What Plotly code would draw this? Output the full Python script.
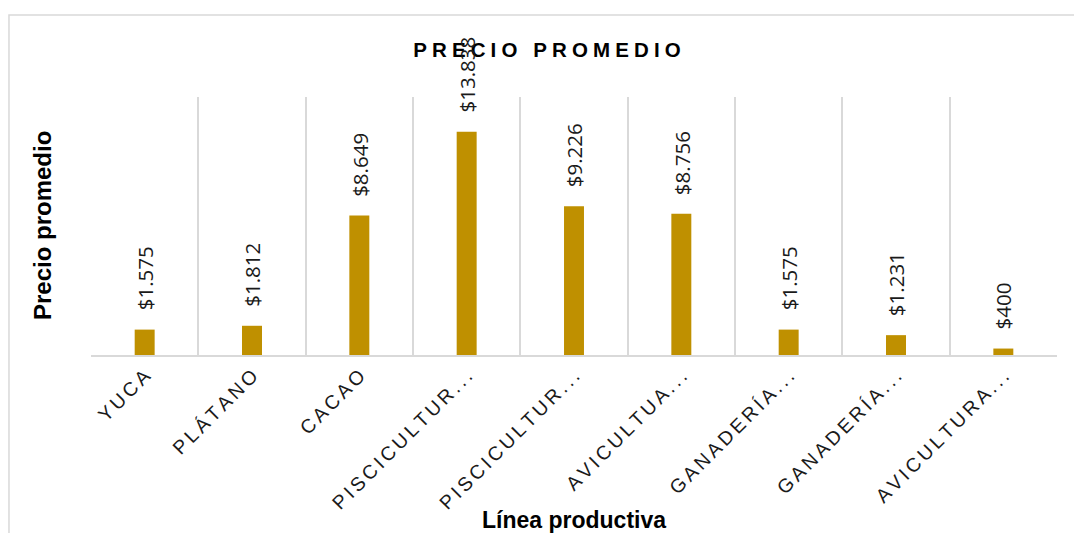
import plotly.graph_objects as go

# Líneas productivas (etiquetas tal como aparecen, recortadas) y precio promedio
categorias = [
    "YUCA",
    "PLÁTANO",
    "CACAO",
    "PISCICULTUR...",
    "PISCICULTUR...",
    "AVICULTUA...",
    "GANADERÍA...",
    "GANADERÍA...",
    "AVICULTURA...",
]
precios = [1575, 1812, 8649, 13838, 9226, 8756, 1575, 1231, 400]

titulo = "PRECIO PROMEDIO"
titulo_y = "Precio promedio"
titulo_x = "Línea productiva"

ORO = "#BF9000"
GRIS = "#D9D9D9"
TEXTO = "#1A1A1A"


def espaciar(texto, sep):
    """Letter-spaced text using narrow space characters."""
    return sep.join(texto)


def moneda(valor):
    return "$" + f"{valor:,}".replace(",", ".")


pos = list(range(len(categorias)))

fig = go.Figure(
    go.Bar(
        x=pos,
        y=precios,
        width=0.186,
        marker=dict(color=ORO, line=dict(width=0)),
        hovertemplate="%{y}<extra></extra>",
    )
)

# Value labels, rotated, above each bar
for x, v in zip(pos, precios):
    fig.add_annotation(
        x=x, y=v, xref="x", yref="y",
        text=moneda(v),
        textangle=-90,
        showarrow=False,
        xanchor="center", yanchor="bottom",
        yshift=17,
        font=dict(family="Open Sans", size=20.5, color=TEXTO),
    )

# Axis titles
fig.add_annotation(
    x=-0.0507, y=0.5, xref="paper", yref="paper",
    text=f"<b>{titulo_y}</b>", textangle=-90, showarrow=False,
    xanchor="center", yanchor="middle",
    font=dict(family="Liberation Sans", size=24, color="#000000"),
)
fig.add_annotation(
    x=0.5, y=(355 - 520) / 258, xref="paper", yref="paper",
    text=f"<b>{titulo_x}</b>", showarrow=False,
    xanchor="center", yanchor="middle",
    font=dict(family="Liberation Sans", size=23, color="#000000"),
)

# Chart frame
fig.add_shape(
    type="rect", xref="paper", yref="paper",
    x0=-0.0849, x1=1.5, y0=-1.5, y1=1.318,
    line=dict(color=GRIS, width=1.5), fillcolor="rgba(0,0,0,0)",
    layer="below",
)

fig.update_layout(
    width=1074,
    height=533,
    margin=dict(l=91, r=17, t=97, b=178),
    paper_bgcolor="white",
    plot_bgcolor="white",
    showlegend=False,
    title=dict(
        text="<b>" + espaciar(titulo, "\u2005") + "</b>",
        x=547 / 1074, xref="container", xanchor="center",
        y=1 - 50 / 533, yref="container", yanchor="middle",
        font=dict(family="Liberation Sans", size=20.5, color="#000000"),
    ),
    xaxis=dict(
        range=[-0.5, len(categorias) - 0.5],
        tickmode="array",
        tickvals=pos,
        ticktext=[espaciar(c, "\u2006") for c in categorias],
        tickangle=-45,
        tickfont=dict(family="Liberation Sans", size=19.5, color=TEXTO),
        ticks="",
        showgrid=False,
        zeroline=False,
        showline=True,
        linecolor=GRIS,
        linewidth=2,
        minor=dict(
            tickmode="array",
            tickvals=[i - 0.5 for i in range(len(categorias) + 1)],
            showgrid=True,
            gridcolor=GRIS,
            gridwidth=1.5,
            ticks="",
        ),
        fixedrange=True,
    ),
    yaxis=dict(
        range=[0, 16000],
        showticklabels=False,
        showgrid=False,
        zeroline=False,
        showline=False,
        ticks="",
        fixedrange=True,
    ),
)

fig.write_html("out.html")
